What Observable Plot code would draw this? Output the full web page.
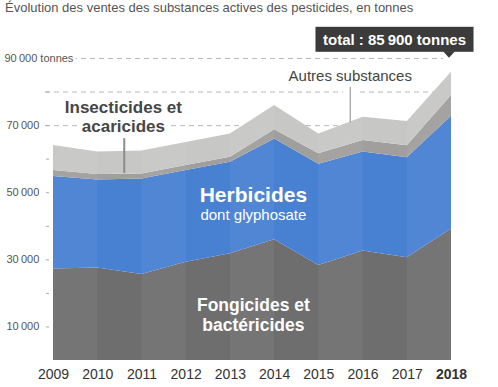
<!DOCTYPE html>
<html>
<head>
<meta charset="utf-8">
<script src="https://cdn.jsdelivr.net/npm/d3@7"></script>
<script src="https://cdn.jsdelivr.net/npm/@observablehq/plot@0.6"></script>
<style>
  body { margin: 0; background: #fff; }
  #title { font-family: "Liberation Sans", Arial, Helvetica, sans-serif; font-size: 13px; color: #555; height: 20px; line-height: 16px; padding-left: 5px; white-space: nowrap; }
</style>
</head>
<body>
<div id="title">Évolution des ventes des substances actives des pesticides, en tonnes</div>
<div id="chart"></div>
<script>
// ---- Data (tonnes) ----
const years = [2009, 2010, 2011, 2012, 2013, 2014, 2015, 2016, 2017, 2018];
const fongicides   = [27300, 27600, 25600, 29300, 31800, 36000, 28300, 32600, 30600, 39200];
const herbicides   = [27500, 26200, 28500, 27300, 27300, 30000, 30200, 29500, 29800, 33600];
const insecticides = [1800, 1600, 1500, 1500, 1500, 2800, 3100, 3500, 3600, 6200];
const autres       = [7500, 6700, 6800, 6900, 6900, 7200, 5900, 6900, 7200, 6900];
const categories = ["Fongicides et bactéricides", "Herbicides", "Insecticides et acaricides", "Autres substances"];
const series = [fongicides, herbicides, insecticides, autres];
const colors = ["#6e6e6e", "#4880d2", "#a09f9d", "#c7c7c5"];
const labeledTicks = [10000, 30000, 50000, 70000];
const allTicks = [10000, 20000, 30000, 40000, 50000, 60000, 70000, 80000];
const gridValues = [70000, 80000, 90000];
const topTick = 90000;
const totalLabel = "total : 85\u202F900 tonnes";

const rows = [];
categories.forEach((c, j) => years.forEach((yr, i) => rows.push({year: yr, cat: c, value: series[j][i]})));
const bandStarts = years.filter((d, i) => i % 2 === 0 && i < years.length - 1);

const fmt = d3.formatLocale({thousands: "\u202F", grouping: [3], decimal: ",", currency: ["", ""]}).format(",d");
const font = '"Liberation Sans", Arial, Helvetica, sans-serif';

const chart = Plot.plot({
  width: 498,
  height: 367,
  marginLeft: 53,
  marginRight: 47,
  marginTop: 38,
  marginBottom: 27,
  style: {fontFamily: font, background: "#fff", overflow: "visible"},
  x: {domain: [2009, 2018], axis: null},
  y: {domain: [0, 90000], axis: null},
  color: {domain: categories, range: colors},
  marks: [
    Plot.ruleY(gridValues, {stroke: "#b8b8b8", strokeDasharray: "5,4", insetLeft: -8, insetRight: 8}),
    Plot.axisY({ticks: allTicks, tickSize: 3, tickFormat: () => "", label: null, stroke: "#aaa", dx: -4}),
    Plot.areaY(rows, {x: "year", y: "value", fill: "cat", order: categories}),
    Plot.rect(bandStarts, {x1: d => d, x2: d => d + 1, fill: "white", fillOpacity: 0.05}),
    // y labels
    Plot.text(labeledTicks, {y: d => d, text: d => fmt(d), frameAnchor: "left", textAnchor: "start", dx: -47, fontSize: 11, fill: "#555"}),
    Plot.text([topTick], {y: d => d, text: d => fmt(d) + " tonnes", frameAnchor: "left", textAnchor: "start", dx: -49, fontSize: 11, fill: "#555", stroke: "white", strokeWidth: 6}),
    // x labels
    Plot.text(years.filter(d => d !== 2018), {x: d => d, text: d => String(d), frameAnchor: "bottom", dy: 18, fontSize: 14, fill: "#333"}),
    Plot.text([2018], {x: d => d, text: d => String(d), frameAnchor: "bottom", dy: 18, fontSize: 14, fill: "#333", fontWeight: "bold"}),
    // annotations
    Plot.ruleX([2015.71], {y1: 79300, y2: 80700, stroke: "white", strokeWidth: 14}),
    Plot.ruleX([2015.71], {y1: 81400, y2: 70900, stroke: "#8a8a8a", strokeWidth: 1}),
    Plot.text(["Autres substances"], {x: 2015.71, y: 84600, text: d => d, fontSize: 15, fill: "#444", stroke: "white", strokeWidth: 5}),
    Plot.ruleX([2010.6], {y1: 66100, y2: 55700, stroke: "#8c8c8c", strokeWidth: 2}),
    Plot.text(["Insecticides et\nacaricides"], {x: 2010.58, y: 72600, text: d => d, fontSize: 17, fontWeight: "bold", lineHeight: 1.12, fill: "#464646", stroke: "white", strokeWidth: 6}),
    Plot.text(["Herbicides"], {x: 2013.52, y: 49200, text: d => d, fontSize: 21, fontWeight: "bold", fill: "white"}),
    Plot.text(["dont glyphosate"], {x: 2013.52, y: 43400, text: d => d, fontSize: 15, fill: "white"}),
    Plot.text(["Fongicides et\nbactéricides"], {x: 2013.52, y: 13700, text: d => d, fontSize: 17.5, fontWeight: "bold", lineHeight: 1.12, fill: "white"}),
    Plot.text([totalLabel], {x: 2018, y: 90000, text: d => d, dx: -57, dy: -18.5, fontSize: 15, fontWeight: "bold", fill: "white"})
  ]
});
document.getElementById("chart").appendChild(chart);

// Dark box + pointer behind the total label
(function () {
  const svg = chart;
  const svgRect = svg.getBoundingClientRect();
  const node = d3.select(svg).selectAll("text").filter(function () { return this.textContent === totalLabel; }).node();
  if (!node) return;
  const bb = node.getBoundingClientRect();
  let top = node;
  while (top.parentNode && top.parentNode !== svg) top = top.parentNode;
  const left = bb.left - svgRect.left, right = bb.right - svgRect.left;
  const cy = (bb.top + bb.bottom) / 2 - svgRect.top;
  const padX = 7.5, h = 25;
  const ns = "http://www.w3.org/2000/svg";
  const rect = document.createElementNS(ns, "rect");
  rect.setAttribute("x", left - padX);
  rect.setAttribute("y", cy - h / 2);
  rect.setAttribute("width", right - left + 2 * padX);
  rect.setAttribute("height", h);
  rect.setAttribute("fill", "#3b3b3b");
  svg.insertBefore(rect, top);
  const px = chart.scale("x").apply(2018) - 2;
  const by = cy + h / 2;
  const tri = document.createElementNS(ns, "path");
  tri.setAttribute("d", `M${px - 6},${by - 0.5}L${px + 6},${by - 0.5}L${px},${by + 6}Z`);
  tri.setAttribute("fill", "#3b3b3b");
  svg.insertBefore(tri, top);
})();
</script>
</body>
</html>
